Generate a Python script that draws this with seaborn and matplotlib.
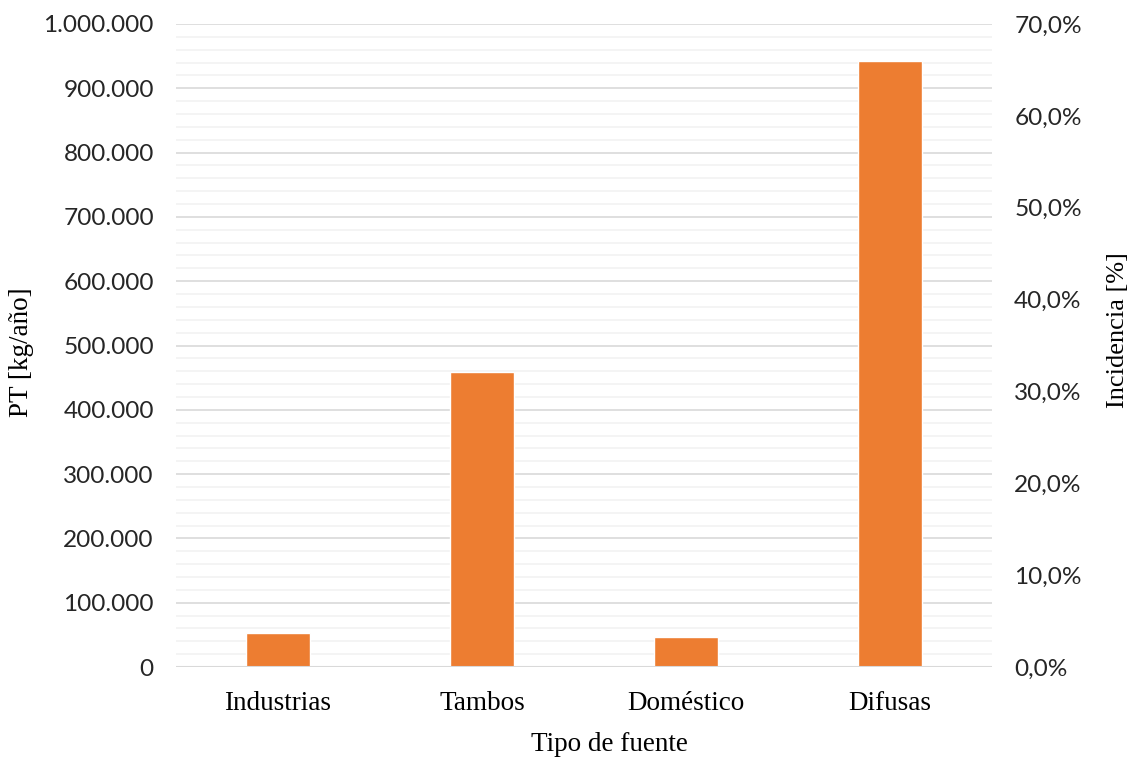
import matplotlib
matplotlib.use("Agg")
import matplotlib.pyplot as plt
import matplotlib.ticker as mticker
import seaborn as sns
import pandas as pd

categorias = ["Industrias", "Tambos", "Doméstico", "Difusas"]
pt_kg_anio = [53500, 459000, 46500, 942500]
y_ticks = [0, 100000, 200000, 300000, 400000, 500000, 600000, 700000, 800000, 900000, 1000000]
pct_ticks = [0.0, 0.1, 0.2, 0.3, 0.4, 0.5, 0.6, 0.7]

sns.set_theme(style="white")
serif = ["Liberation Serif", "DejaVu Serif"]
sans = ["Lato", "DejaVu Sans"]

df = pd.DataFrame({"cat": categorias, "pt": pt_kg_anio})

fig = plt.figure(figsize=(11.33, 7.57), dpi=100)
ax = fig.add_axes([176/1133, 90/757, 816/1133, 643/757])

sns.barplot(data=df, x="cat", y="pt", color="#ED7D31", width=0.314,
            saturation=1, ax=ax, zorder=3)

ax.set_ylim(0, 1000000)
ax.set_xlim(-0.5, 3.5)
ax.set_yticks(y_ticks)
ax.yaxis.set_minor_locator(mticker.MultipleLocator(20000))
ax.yaxis.set_major_formatter(mticker.FuncFormatter(lambda v, p: f"{int(v):,}".replace(",", ".")))
ax.grid(axis="y", which="major", color="#d9d9d9", linewidth=1.2, zorder=0)
ax.grid(axis="y", which="minor", color="#f2f2f2", linewidth=1.2, zorder=0)
ax.grid(axis="x", visible=False)
for s in ax.spines.values():
    s.set_visible(False)
ax.axhline(0, color="#d9d9d9", linewidth=1.5, zorder=4)
ax.tick_params(axis="both", which="both", length=0)
ax.tick_params(axis="y", pad=16)
ax.tick_params(axis="x", pad=17)
for lbl in ax.get_yticklabels():
    lbl.set_fontfamily(sans); lbl.set_fontsize(17.6); lbl.set_color("#262626")
for lbl in ax.get_xticklabels():
    lbl.set_fontfamily(serif); lbl.set_fontsize(19.5); lbl.set_color("#000000")
ax.set_xlabel("Tipo de fuente", family=serif, fontsize=19.5, color="#000000")
ax.set_ylabel("PT [kg/año]", family=serif, fontsize=19.5, color="#000000")
ax.xaxis.set_label_coords(0.531, -0.121)
ax.yaxis.set_label_coords(-0.189, 0.49)
ax.xaxis.label.set_va("center")
ax.yaxis.label.set_va("center")

ax2 = ax.twinx()
ax2.set_ylim(0, 0.7)
ax2.set_yticks(pct_ticks)
ax2.yaxis.set_major_formatter(mticker.FuncFormatter(lambda v, p: f"{v*100:.1f}%".replace(".", ",")))
for s in ax2.spines.values():
    s.set_visible(False)
ax2.grid(False)
ax2.tick_params(axis="y", length=0, pad=16)
for lbl in ax2.get_yticklabels():
    lbl.set_fontfamily(sans); lbl.set_fontsize(17.6); lbl.set_color("#262626")
ax2.set_ylabel("Incidencia [%]", family=serif, fontsize=19, color="#000000")
ax2.yaxis.set_label_coords(1.154, 0.524)
ax2.yaxis.label.set_va("center")

fig.savefig("out.png", dpi=100)
